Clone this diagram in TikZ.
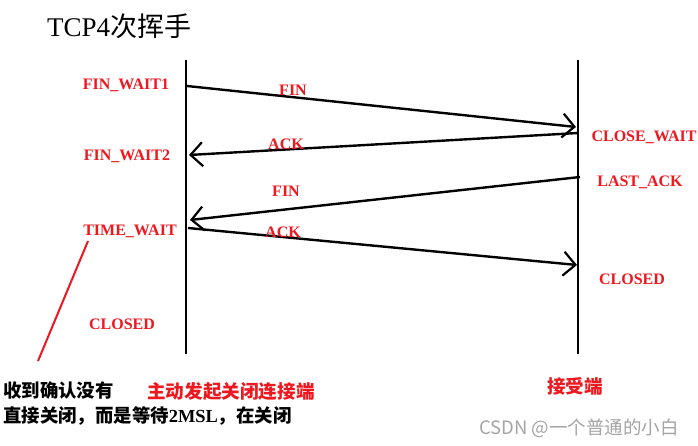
\documentclass[tikz,border=0pt]{standalone}
\usepackage{fontspec}
\setmainfont{Liberation Serif}
\newfontfamily\cjk{Noto Sans CJK SC}
\usetikzlibrary{arrows.meta}
\definecolor{lblred}{RGB}{238,24,32}
\definecolor{wmgray}{RGB}{165,165,165}
\tikzset{
  lifeline/.style={line width=2.6pt},
  msg/.style={line width=2.4pt,-{Straight Barb[length=12pt,width=24pt,line width=2.2pt]}},
  state/.style={text=lblred,font=\fontsize{16}{18}\selectfont\bfseries,inner sep=0pt},
  cjkred/.style={text=lblred,font=\cjk\fontsize{18.6}{21}\selectfont\bfseries,inner sep=0pt},
  cjkblack/.style={text=black,font=\cjk\fontsize{18.4}{21}\selectfont\bfseries,inner sep=0pt,anchor=west},
}
\begin{document}
\begin{tikzpicture}[x=1pt,y=-1pt]
\useasboundingbox[fill=white] (0,0) rectangle (698,446);
% title
\node[font=\fontsize{27}{30}\selectfont,inner sep=0pt,anchor=west] (title) at (47,26) {TCP4{\cjk 次挥手}};
% lifelines
\coordinate (ltop) at (186,60);
\coordinate (lbot) at (186,354);
\coordinate (rtop) at (578,60);
\coordinate (rbot) at (578,354);
\draw[lifeline] (ltop) -- (lbot);
\draw[lifeline] (rtop) -- (rbot);
% message endpoints
\coordinate (a1) at (187,86);
\coordinate (b1) at (576,127);
\coordinate (b2) at (578,133);
\coordinate (a2) at (189,155);
\coordinate (b3) at (580,177);
\coordinate (a3) at (190,220);
\coordinate (a4) at (188,228);
\coordinate (b4) at (577,265);
\draw[msg] (a1) -- (b1);
\draw[msg] (b2) -- (a2);
\draw[msg] (b3) -- (a3);
\draw[msg] (a4) -- (b4);
% message labels
\node[state] (fin1) at (293,90) {FIN};
\node[state] (ack1) at (286,144) {ACK};
\node[state] (fin2) at (286,191) {FIN};
\node[state] (ack2) at (283,232) {ACK};
% state labels
\node[state] (fw1) at (126,85) {FIN\_WAIT1};
\node[state] (fw2) at (127,156) {FIN\_WAIT2};
\node[state] (tw) at (130,231) {TIME\_WAIT};
\node[state] (cl1) at (122,324) {CLOSED};
\node[state] (cw) at (644,137) {CLOSE\_WAIT};
\node[state] (la) at (640,182) {LAST\_ACK};
\node[state] (cl2) at (632,279) {CLOSED};
% red pointer
\coordinate (p1) at (88,241);
\coordinate (p2) at (38,361);
\draw[lblred,line width=2pt] (p1) -- (p2);
% bottom texts
\node[cjkblack] (note1) at (3,391) {收到确认没有};
\node[cjkblack] (note2) at (3,416) {直接关闭，而是等待{\rmfamily\bfseries 2MSL}，在关闭};
\node[cjkred] (act) at (231,391) {主动发起关闭连接端};
\node[cjkred] (pas) at (575,386) {接受端};
\node[text=wmgray,font=\cjk\fontsize{18.5}{21}\selectfont,inner sep=0pt] (wm) at (579,428) {CSDN @一个普通的小白};
\end{tikzpicture}
\end{document}
